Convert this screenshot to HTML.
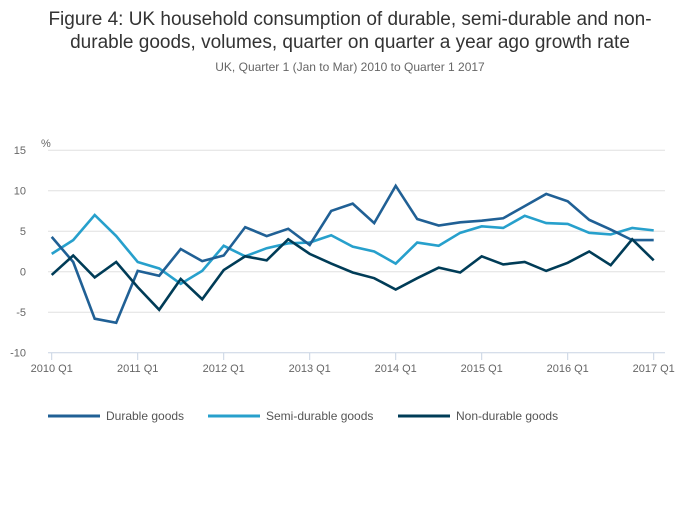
<!DOCTYPE html>
<html><head><meta charset="utf-8"><style>
body{margin:0;background:#fff;font-family:"Liberation Sans",sans-serif;}
svg text{font-family:"Liberation Sans",sans-serif;}
</style></head><body>
<svg width="700" height="502" viewBox="0 0 700 502">
<text x="350" y="25" text-anchor="middle" font-size="19" fill="#333">Figure 4: UK household consumption of durable, semi-durable and non-</text>
<text x="350" y="48" text-anchor="middle" font-size="19" fill="#333">durable goods, volumes, quarter on quarter a year ago growth rate</text>
<text x="350" y="71" text-anchor="middle" font-size="12" fill="#666">UK, Quarter 1 (Jan to Mar) 2010 to Quarter 1 2017</text>
<text x="41" y="147" font-size="11" fill="#666">%</text>
<g id="grid"></g><g id="lines"></g>
<g>
<line x1="48" y1="416" x2="100" y2="416" stroke="#206095" stroke-width="3"/>
<text x="106" y="420" font-size="12" fill="#555">Durable goods</text>
<line x1="208" y1="416" x2="260" y2="416" stroke="#27a0cc" stroke-width="3"/>
<text x="266" y="420" font-size="12" fill="#555">Semi-durable goods</text>
<line x1="398" y1="416" x2="450" y2="416" stroke="#003c57" stroke-width="3"/>
<text x="456" y="420" font-size="12" fill="#555">Non-durable goods</text>
</g>
</svg>
<script>
const yTicks=[15,10,5,0,-5,-10];
const xLabels=["2010 Q1","2011 Q1","2012 Q1","2013 Q1","2014 Q1","2015 Q1","2016 Q1","2017 Q1"];
const durable=[4.3,1.2,-5.8,-6.3,0.1,-0.5,2.8,1.3,2.0,5.5,4.4,5.3,3.3,7.5,8.4,6.0,10.6,6.5,5.7,6.1,6.3,6.6,8.1,9.6,8.7,6.4,5.2,3.9,3.9];
const semiDurable=[2.2,3.9,7.0,4.4,1.2,0.4,-1.5,0.1,3.2,1.9,2.9,3.5,3.6,4.5,3.1,2.5,1.0,3.6,3.2,4.8,5.6,5.4,6.9,6.0,5.9,4.8,4.6,5.4,5.1];
const nonDurable=[-0.4,2.0,-0.7,1.2,-1.9,-4.7,-0.9,-3.4,0.2,1.9,1.4,4.0,2.2,1.0,-0.1,-0.8,-2.2,-0.8,0.5,-0.1,1.9,0.9,1.2,0.1,1.1,2.5,0.8,4.0,1.4];
const NS="http://www.w3.org/2000/svg";
const x=i=>51.7+i*21.5;
const y=v=>271.7-v*8.1;
const grid=document.getElementById('grid');
yTicks.forEach(t=>{
 const l=document.createElementNS(NS,'line');
 
 
 l.setAttribute('x1',48);l.setAttribute('x2',665);l.setAttribute('y1',y(t));l.setAttribute('y2',y(t));
 l.setAttribute('stroke',t===-10?'#c8d4e3':'#e0e0e0');l.setAttribute('stroke-width',1);
 grid.appendChild(l);
 const tx=document.createElementNS(NS,'text');
 
 
 tx.setAttribute('x',26);tx.setAttribute('y',y(t)+4);tx.setAttribute('text-anchor','end');
 tx.setAttribute('font-size','11');tx.setAttribute('fill','#666');tx.textContent=t;
 grid.appendChild(tx);
});
xLabels.forEach((s,k)=>{
 const xx=x(k*4);
 const l=document.createElementNS(NS,'line');
 
 
 l.setAttribute('x1',xx);l.setAttribute('x2',xx);l.setAttribute('y1',353);l.setAttribute('y2',360);
 l.setAttribute('stroke','#c8d4e3');grid.appendChild(l);
 const tx=document.createElementNS(NS,'text');
 
 
 tx.setAttribute('x',xx);tx.setAttribute('y',372);tx.setAttribute('text-anchor','middle');
 tx.setAttribute('font-size','11');tx.setAttribute('fill','#666');tx.textContent=s;
 grid.appendChild(tx);
});
const lines=document.getElementById('lines');
[[semiDurable,'#27a0cc','semi-durable-line'],[durable,'#206095','durable-line'],[nonDurable,'#003c57','non-durable-line']].forEach(([d,c,n])=>{
 const p=document.createElementNS(NS,'polyline');
 
 
 p.setAttribute('points',d.map((v,i)=>x(i)+','+y(v)).join(' '));
 p.setAttribute('fill','none');p.setAttribute('stroke',c);p.setAttribute('stroke-width','2.6');
 lines.appendChild(p);
});
</script>
</body></html>
